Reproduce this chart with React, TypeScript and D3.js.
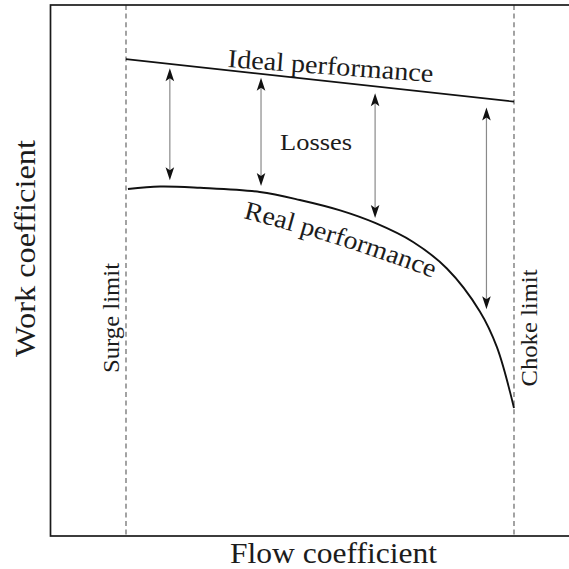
import React from "react";
import * as d3 from "d3";

// Normalised flow coefficient: 0 at the surge limit, 1 at the choke limit
const surgeLimit = 0;
const chokeLimit = 1;

// Ideal performance: straight line between the two limits
const idealFlow = [0, 1];
const idealWork = [0.898, 0.818];

// Real performance curve
const realFlow = [0.005, 0.088, 0.191, 0.345, 0.448, 0.552, 0.642, 0.74, 0.827, 0.912, 0.956, 1.0];
const realWork = [0.6535, 0.6582, 0.6557, 0.6478, 0.6328, 0.6132, 0.5895, 0.5537, 0.5038, 0.423, 0.3557, 0.2411];

// Loss arrows between ideal and real performance
const lossFlow = [0.113, 0.348, 0.642, 0.929];
const lossTop = [0.881, 0.863, 0.834, 0.807];
const lossBottom = [0.67, 0.659, 0.599, 0.427];

const FONT = '"Liberation Serif", "DejaVu Serif", "Times New Roman", serif';
const INK = "#111";
const TEXT_INK = "#1c1c1c";

function arrowHead(tx: number, ty: number, dir: number) {
  // dir = -1 points up, +1 points down
  const len = 13;
  const half = 4.3;
  const notch = 10;
  return `M${tx},${ty} L${tx - half},${ty - dir * len} L${tx},${ty - dir * notch} L${tx + half},${ty - dir * len} Z`;
}

export default function App() {
  const W = 569;
  const H = 569;
  const left = 50.5;
  const top = 5;
  const bottom = 536;

  const x = d3.scaleLinear().domain([0, 1]).range([126, 514]);
  const y = d3.scaleLinear().domain([0, 1]).range([bottom, top]);

  const ideal = d3
    .line<number>()
    .x((_, i) => x(idealFlow[i]))
    .y((d) => y(d))(idealWork) as string;

  const real = d3
    .line<number>()
    .x((_, i) => x(realFlow[i]))
    .y((d) => y(d))
    .curve(d3.curveCatmullRom.alpha(0.5))(realWork) as string;

  const limits = [surgeLimit, chokeLimit];
  const textStyle: React.CSSProperties = { fontFamily: FONT };

  return (
    <svg
      width={W}
      height={H}
      style={{ position: "fixed", left: 0, top: 0, background: "#fff" }}
    >
      <rect x={0} y={0} width={W} height={H} fill="#fff" />
      <defs>
        <path id="realLabelPath" d="M243,218 Q338,242 433,278" fill="none" />
      </defs>

      {/* surge and choke limits */}
      {limits.map((f, i) => (
        <line
          key={i}
          x1={x(f)}
          x2={x(f)}
          y1={top}
          y2={bottom}
          stroke="#666"
          strokeWidth={1.2}
          strokeDasharray="5,3.6"
        />
      ))}

      {/* axes frame */}
      <rect
        x={left}
        y={top}
        width={560}
        height={bottom - top}
        fill="none"
        stroke="#1a1a1a"
        strokeWidth={1.7}
      />

      {/* performance curves */}
      <path d={ideal} fill="none" stroke={INK} strokeWidth={1.7} />
      <path d={real} fill="none" stroke={INK} strokeWidth={1.9} />

      {/* loss arrows */}
      {lossFlow.map((f, i) => {
        const ax = x(f);
        const y1 = y(lossTop[i]);
        const y2 = y(lossBottom[i]);
        return (
          <g key={i}>
            <line x1={ax} x2={ax} y1={y1 + 8} y2={y2 - 8} stroke="#8a8a8a" strokeWidth={1.2} />
            <path d={arrowHead(ax, y1, -1)} fill={INK} />
            <path d={arrowHead(ax, y2, 1)} fill={INK} />
          </g>
        );
      })}

      {/* labels */}
      <g fill={TEXT_INK}>
        <text style={textStyle} x={330} y={74.5} transform="rotate(4.2 330 74.5)" textAnchor="middle" fontSize={26} textLength={206} lengthAdjust="spacingAndGlyphs">
          Ideal performance
        </text>
        <text style={textStyle} x={316} y={150} textAnchor="middle" fontSize={23.5} textLength={72} lengthAdjust="spacingAndGlyphs">
          Losses
        </text>
        <text style={textStyle} fontSize={26}>
          <textPath href="#realLabelPath" textLength={199} lengthAdjust="spacingAndGlyphs">
            Real performance
          </textPath>
        </text>
        <text style={textStyle} x={119} y={318} transform="rotate(-90 119 318)" textAnchor="middle" fontSize={23} textLength={110} lengthAdjust="spacingAndGlyphs">
          Surge limit
        </text>
        <text style={textStyle} x={537} y={328} transform="rotate(-90 537 328)" textAnchor="middle" fontSize={23} textLength={117} lengthAdjust="spacingAndGlyphs">
          Choke limit
        </text>
        <text style={textStyle} x={333.5} y={563} textAnchor="middle" fontSize={30} textLength={207} lengthAdjust="spacingAndGlyphs">
          Flow coefficient
        </text>
        <text style={textStyle} x={35} y={248.5} transform="rotate(-90 35 248.5)" textAnchor="middle" fontSize={30} textLength={217} lengthAdjust="spacingAndGlyphs">
          Work coefficient
        </text>
      </g>
    </svg>
  );
}
